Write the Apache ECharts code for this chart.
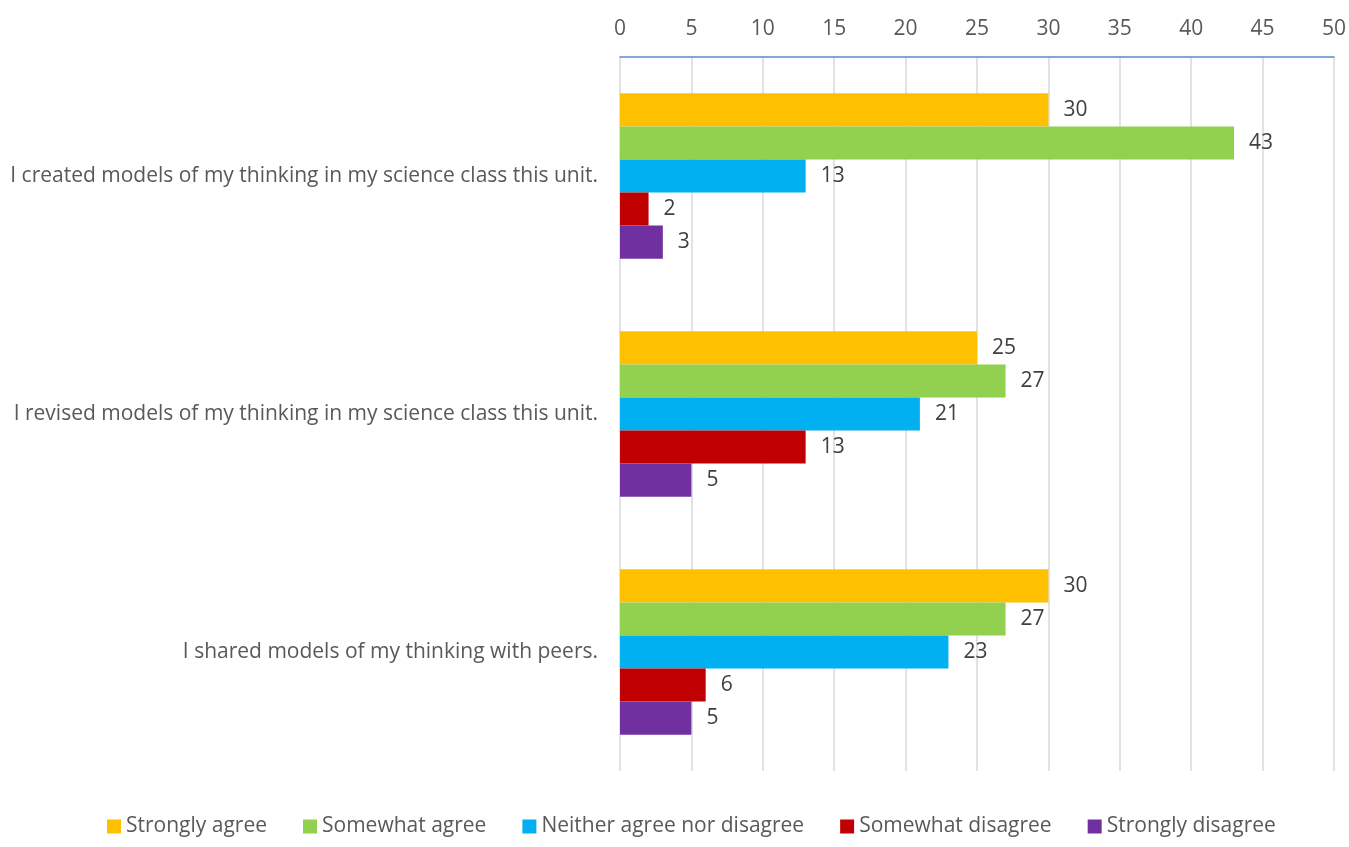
<!DOCTYPE html>
<html>
<head>
<meta charset="utf-8">
<script src="https://cdn.jsdelivr.net/npm/echarts@6/dist/echarts.min.js"></script>
<style>
  html, body { margin: 0; padding: 0; background: #fff; }
  #chart { width: 1349px; height: 847px; }
</style>
</head>
<body>
<div id="chart"></div>
<script>
// Survey statements (top to bottom)
const categories = [
  'I created models of my thinking in my science class this unit.',
  'I revised models of my thinking in my science class this unit.',
  'I shared models of my thinking with peers.'
];

// Response counts per statement
const stronglyAgree = [30, 25, 30];
const somewhatAgree = [43, 27, 27];
const neitherAgree = [13, 21, 23];
const somewhatDisagree = [2, 13, 6];
const stronglyDisagree = [3, 5, 5];

const seriesNames = ['Strongly agree', 'Somewhat agree', 'Neither agree nor disagree', 'Somewhat disagree', 'Strongly disagree'];
const seriesData = [stronglyAgree, somewhatAgree, neitherAgree, somewhatDisagree, stronglyDisagree];
const colors = ['#FFC000', '#92D050', '#00B0F0', '#C00000', '#7030A0'];

const textColor = '#595959';
const fontFamily = '"Open Sans", "Noto Sans", sans-serif';
const fontSize = 21;

const chart = echarts.init(document.getElementById('chart'));
chart.setOption({
  animation: false,
  color: colors,
  textStyle: { fontFamily: fontFamily, color: textColor },
  grid: { left: 620, right: 11, top: 57, bottom: 76, containLabel: false },
  legend: {
    bottom: 5,
    left: 102,
    itemWidth: 14,
    itemHeight: 14,
    itemGap: 36,
    icon: 'rect',
    textStyle: { fontSize: fontSize, color: textColor, fontFamily: fontFamily },
    data: seriesNames
  },
  xAxis: {
    type: 'value',
    position: 'top',
    min: 0,
    max: 50,
    interval: 5,
    axisLine: { show: true, lineStyle: { color: '#5B8BCF', width: 1.5 } },
    axisTick: { show: false },
    axisLabel: { fontSize: fontSize, color: textColor, margin: 17 },
    splitLine: { show: true, lineStyle: { color: '#D9D9D9', width: 1.5 } }
  },
  yAxis: {
    type: 'category',
    inverse: true,
    data: categories,
    axisLine: { show: false },
    axisTick: { show: false },
    axisLabel: { fontSize: fontSize, color: textColor, margin: 22 }
  },
  series: seriesNames.map((name, i) => ({
    name: name,
    type: 'bar',
    data: seriesData[i],
    barGap: '0%',
    barCategoryGap: '30.5%',
    label: {
      show: true,
      position: 'right',
      distance: 15,
      fontSize: fontSize,
      color: '#404040',
      fontFamily: fontFamily
    }
  }))
});
</script>
</body>
</html>
